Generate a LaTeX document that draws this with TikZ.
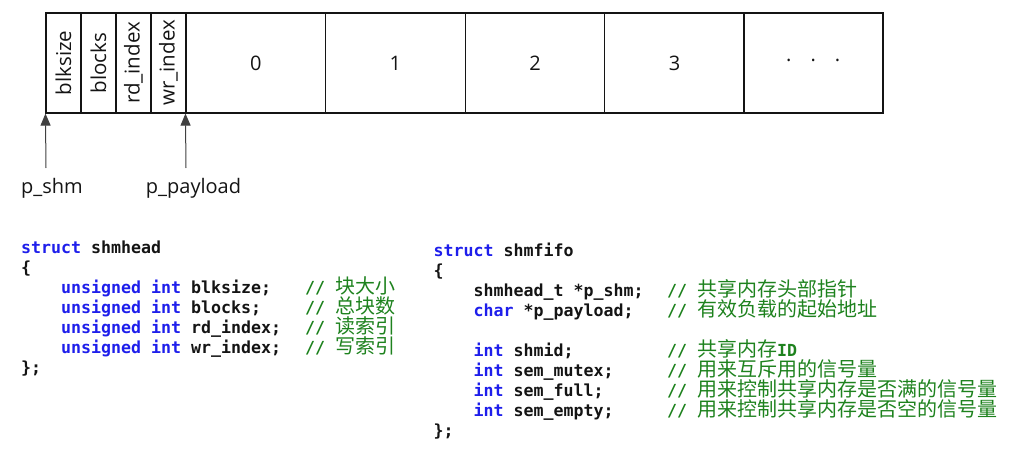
\documentclass[tikz,border=0pt]{standalone}
\usepackage{fontspec}
\usepackage{graphicx}
\setmainfont{Open Sans}
\setmonofont{DejaVu Sans Mono}
\newfontfamily\cjk{Noto Sans CJK SC}
\usetikzlibrary{arrows.meta}
\definecolor{kw}{RGB}{30,30,235}
\definecolor{cm}{RGB}{30,130,30}
\definecolor{tx}{RGB}{20,20,20}
\newcommand{\kwd}[1]{{\color{kw}#1}}
\newcommand{\zh}[1]{{\cjk\mdseries\fontsize{20}{20}\selectfont #1}}
\begin{document}
\begin{tikzpicture}[x=1pt,y=-1pt,
 cell/.style={draw=tx, line width=1.1pt, minimum height=100pt, inner sep=0pt, font=\fontsize{20}{20}\selectfont, text=tx},
 smallcell/.style={cell, minimum width=35pt, font=\fontsize{20.5}{20}\selectfont},
 bigcell/.style={cell, minimum width=139.6pt},
 ptr/.style={draw=black!75, line width=1pt, -{Triangle[length=12pt,width=10pt]}},
 plabel/.style={font=\fontsize{20}{20}\selectfont, text=tx, inner sep=0pt},
 code/.style={anchor=base west, inner sep=0pt, font=\ttfamily\bfseries\fontsize{16.61}{20}\selectfont, text=tx},
 cmt/.style={anchor=base west, inner sep=0pt, text=cm, font=\ttfamily\bfseries\fontsize{16.61}{20}\selectfont},
]
\useasboundingbox (0,0) rectangle (1034,455);
% memory layout
\node[smallcell] (c1) at (63.5,63) {\rotatebox{90}{blksize}};
\node[smallcell] (c2) at (98.5,63) {\rotatebox{90}{blocks}};
\node[smallcell] (c3) at (133.5,63) {\rotatebox{90}{rd\_index}};
\node[smallcell] (c4) at (168.5,63) {\rotatebox{90}{wr\_index}};
\node[bigcell] (c5) at (255.8,63) {0};
\node[bigcell] (c6) at (395.4,63) {1};
\node[bigcell] (c7) at (535.0,63) {2};
\node[bigcell] (c8) at (674.6,63) {3};
\node[bigcell] (c9) at (813.2,63) {·\hspace{19pt}·\hspace{19pt}·};
% pointers
\coordinate (a1) at (46,168);
\coordinate (a2) at (186,168);
\draw[ptr] (a1) -- (c1.south west);
\draw[ptr] (a2) -- (c5.south west);
\node[plabel] (pshm) at (52,188) {p\_shm};
\node[plabel] (ppay) at (193.5,188) {p\_payload};
% struct shmhead
\node[code] (l1) at (21,253.5) {\kwd{struct} shmhead};
\node[code] (l2) at (21,273.5) {\{};
\node[code] (l3) at (61,293.5) {\kwd{unsigned int} blksize;};
\node[code] (l4) at (61,313.5) {\kwd{unsigned int} blocks;};
\node[code] (l5) at (61,333.5) {\kwd{unsigned int} rd\_index;};
\node[code] (l6) at (61,353.5) {\kwd{unsigned int} wr\_index;};
\node[code] (l7) at (21,373.5) {\};};
\node[cmt] (m3) at (305,293.5) {//\ \zh{块大小}};
\node[cmt] (m4) at (305,313.5) {//\ \zh{总块数}};
\node[cmt] (m5) at (305,333.5) {//\ \zh{读索引}};
\node[cmt] (m6) at (305,353.5) {//\ \zh{写索引}};
% struct shmfifo
\node[code] (r1) at (433.5,256) {\kwd{struct} shmfifo};
\node[code] (r2) at (433.5,276) {\{};
\node[code] (r3) at (473.5,296) {shmhead\_t *p\_shm;};
\node[code] (r4) at (473.5,316) {\kwd{char} *p\_payload;};
\node[code] (r6) at (473.5,356) {\kwd{int} shmid;};
\node[code] (r7) at (473.5,376) {\kwd{int} sem\_mutex;};
\node[code] (r8) at (473.5,396) {\kwd{int} sem\_full;};
\node[code] (r9) at (473.5,416) {\kwd{int} sem\_empty;};
\node[code] (r10) at (433.5,436) {\};};
\node[cmt] (n3) at (667,296) {//\ \zh{共享内存头部指针}};
\node[cmt] (n4) at (667,316) {//\ \zh{有效负载的起始地址}};
\node[cmt] (n6) at (667,356) {//\ \zh{共享内存}ID};
\node[cmt] (n7) at (667,376) {//\ \zh{用来互斥用的信号量}};
\node[cmt] (n8) at (667,396) {//\ \zh{用来控制共享内存是否满的信号量}};
\node[cmt] (n9) at (667,416) {//\ \zh{用来控制共享内存是否空的信号量}};
\end{tikzpicture}
\end{document}
